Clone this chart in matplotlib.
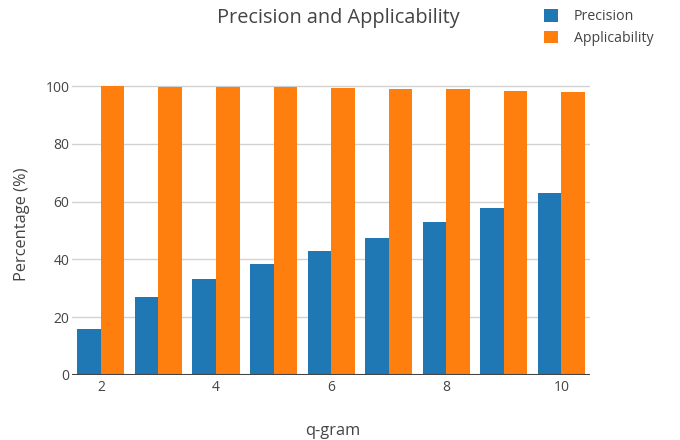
"""Grouped bar chart: precision and applicability by q-gram length."""

import numpy as np
import matplotlib
matplotlib.use("Agg")
import matplotlib.pyplot as plt

q_gram = [2, 3, 4, 5, 6, 7, 8, 9, 10]
precision = [16.0, 27.0, 33.2, 38.4, 42.9, 47.4, 52.9, 57.8, 63.0]
applicability = [100.0, 99.7, 99.7, 99.7, 99.3, 99.0, 99.0, 98.3, 97.9]

plt.rcParams["font.family"] = ["Open Sans", "DejaVu Sans"]
TEXT = "#444444"

fig = plt.figure(figsize=(6.8, 4.4), dpi=100)
ax = fig.add_axes([0.106, 0.148, 0.762, 0.691])

x = np.array(q_gram, dtype=float)
width = 0.41
ax.bar(x - width / 2, precision, width, color="#1f77b4", label="Precision", zorder=3)
ax.bar(x + width / 2, applicability, width, color="#ff7f0e", label="Applicability", zorder=3)

ax.set_xlim(1.5, 10.5)
ax.set_ylim(0, 105.26)
ax.set_xticks([2, 4, 6, 8, 10])
ax.set_yticks([0, 20, 40, 60, 80, 100])
ax.tick_params(axis="both", length=0, labelsize=10, colors=TEXT)
ax.tick_params(axis="x", pad=4)
ax.tick_params(axis="y", pad=2)
ax.grid(axis="y", color="#d2d2d2", linewidth=1, zorder=0)
for s in ax.spines.values():
    s.set_visible(False)
ax.axhline(0, color="#444444", linewidth=1.5, zorder=4)

fig.text(333 / 680, 1 - 431 / 440, "q-gram", ha="center", va="center",
         fontsize=11.8, color=TEXT)
fig.text(22 / 680, 1 - 224 / 440, "Percentage (%)", ha="center", va="center",
         rotation=90, fontsize=11.8, color=TEXT)

fig.text(338 / 680, 1 - 18 / 440, "Precision and Applicability", ha="center",
         va="center", fontsize=14.3, color=TEXT)

ax.legend(loc="upper left", bbox_to_anchor=(0.781, 1.008), bbox_transform=fig.transFigure,
          frameon=False, fontsize=10.2, labelcolor=TEXT, handlelength=1.0,
          handleheight=1.0, handletextpad=1.1, labelspacing=0.45)

plt.savefig("out.png", dpi=100)
plt.close()
